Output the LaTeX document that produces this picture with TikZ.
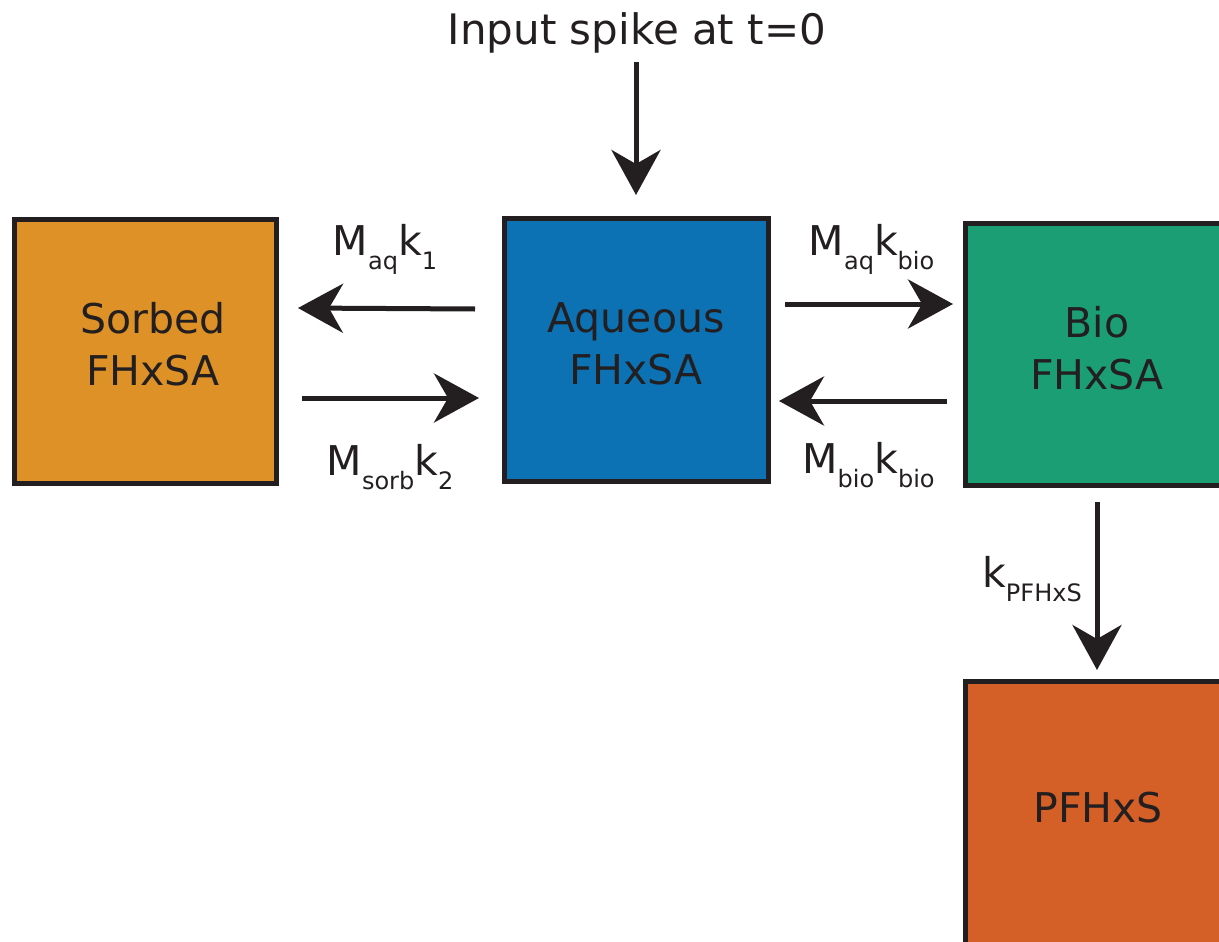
\documentclass[tikz,border=0pt]{standalone}
\usepackage{fontspec}
\setmainfont{DejaVu Sans}
\usetikzlibrary{arrows.meta}
\definecolor{ink}{HTML}{231F20}
\definecolor{sorbcol}{HTML}{DE9126}
\definecolor{aqcol}{HTML}{0C72B3}
\definecolor{biocol}{HTML}{1C9E74}
\definecolor{pfcol}{HTML}{D45F27}
\newcommand\lsub[1]{\raisebox{-14.5pt}{\fontsize{24}{24}\selectfont #1}}
\tikzset{
  compbox/.style={draw=ink, line width=5pt, rectangle, inner sep=0pt},
  boxtext/.style={text=ink, align=center, inner sep=0pt, font=\fontsize{41}{52}\selectfont},
  ratelabel/.style={text=ink, inner sep=0pt, anchor=base, font=\fontsize{41}{49}\selectfont},
  flow/.style={draw=ink, line width=5pt, -{Stealth[length=45pt,width=49pt,inset=14pt]}}
}
\begin{document}
\begin{tikzpicture}[x=1pt,y=-1pt]
\useasboundingbox (0,0) rectangle (1219,942);
\clip (0,0) rectangle (1219,942);
% compartments
\node[compbox, fill=sorbcol, minimum width=262pt, minimum height=264pt] (sorbed) at (145.5,351.5) {};
\node[compbox, fill=aqcol, minimum width=264pt, minimum height=263pt] (aqueous) at (636.5,350) {};
\node[compbox, fill=biocol, minimum width=265pt, minimum height=262pt] (bio) at (1098,354.5) {};
\node[compbox, fill=pfcol, minimum width=265pt, minimum height=265pt] (pfhxs) at (1098,814) {};
% compartment texts
\node[boxtext] (sorbedtxt) at (153,344.4) {Sorbed\\FHxSA};
\node[boxtext] (aqueoustxt) at (636,344) {Aqueous\\FHxSA};
\node[boxtext] (biotxt) at (1097,348.4) {Bio\\FHxSA};
\node[boxtext, anchor=base] (pfhxstxt) at (1098,822) {PFHxS};
% input
\node[ratelabel, font=\fontsize{42}{50}\selectfont] (input) at (637,45) {Input spike at t=0};
% arrow end points
\coordinate (inS) at (636,62);
\coordinate (inE) at (636,195);
\coordinate (asS) at (475,309);
\coordinate (asE) at (298,308);
\coordinate (saS) at (302,398);
\coordinate (saE) at (479,398);
\coordinate (abS) at (785,304);
\coordinate (abE) at (953,304);
\coordinate (baS) at (947,401);
\coordinate (baE) at (779,401);
\coordinate (bpS) at (1097,502);
\coordinate (bpE) at (1097,670);
% arrows
\draw[flow] (inS) -- (inE);
\draw[flow] (asS) -- (asE);
\draw[flow] (saS) -- (saE);
\draw[flow] (abS) -- (abE);
\draw[flow] (baS) -- (baE);
\draw[flow] (bpS) -- (bpE);
% rate labels
\node[ratelabel] (l1) at (385,255) {M\lsub{aq}k\lsub{1}};
\node[ratelabel] (l2) at (390,475) {M\lsub{sorb}k\lsub{2}};
\node[ratelabel] (l3) at (871.5,255) {M\lsub{aq}k\lsub{bio}};
\node[ratelabel] (l4) at (868.5,473) {M\lsub{bio}k\lsub{bio}};
\node[ratelabel] (l5) at (1032,587) {k\lsub{PFHxS}};
\end{tikzpicture}
\end{document}
